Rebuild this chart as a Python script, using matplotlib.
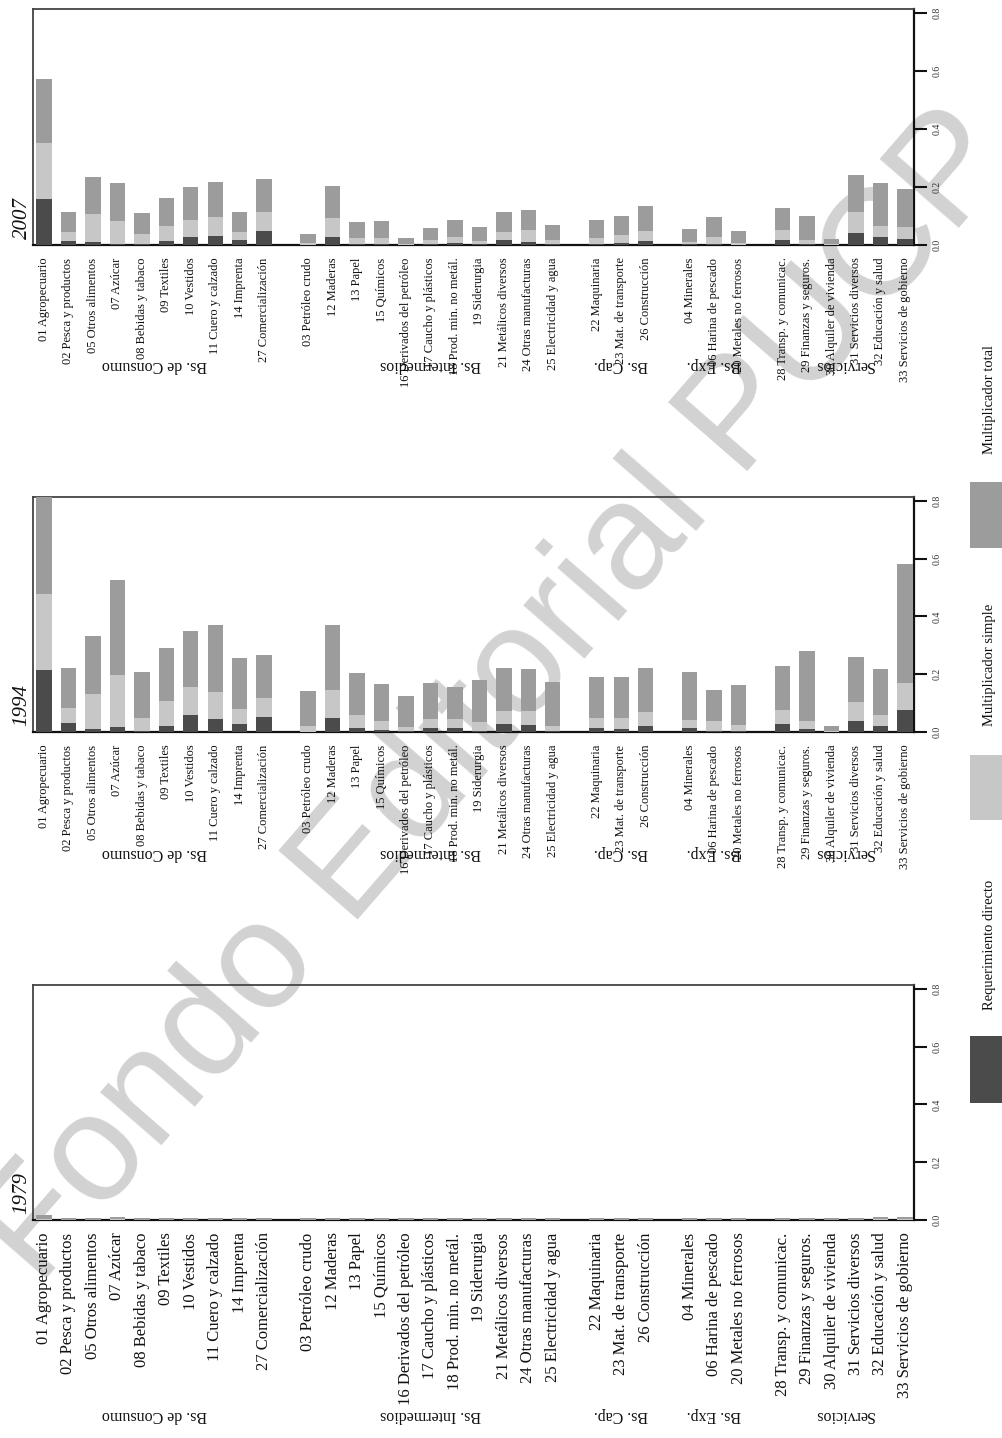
import matplotlib
matplotlib.use("Agg")
import matplotlib.pyplot as plt
from matplotlib.patches import Rectangle
from matplotlib.transforms import blended_transform_factory
import numpy as np

# Sectors, in plotting order, and the block each belongs to
sectors = [
    "01 Agropecuario", "02 Pesca y productos", "05 Otros alimentos", "07 Azúcar",
    "08 Bebidas y tabaco", "09 Textiles", "10 Vestidos", "11 Cuero y calzado",
    "14 Imprenta", "27 Comercialización",
    "03 Petróleo crudo", "12 Maderas", "13 Papel", "15 Químicos",
    "16 Derivados del petróleo", "17 Caucho y plásticos", "18 Prod. min. no metál.",
    "19 Siderurgia", "21 Metálicos diversos", "24 Otras manufacturas",
    "25 Electricidad y agua",
    "22 Maquinaria", "23 Mat. de transporte", "26 Construcción",
    "04 Minerales", "06 Harina de pescado", "20 Metales no ferrosos",
    "28 Transp. y comunicac.", "29 Finanzas y seguros.", "30 Alquiler de vivienda",
    "31 Servicios diversos", "32 Educación y salud", "33 Servicios de gobierno",
]
groups = ["Bs. de Consumo", "Bs. Intermedios", "Bs. Cap.", "Bs. Exp.", "Servicios"]
group_sizes = [10, 11, 3, 3, 6]

series_names = ["Requerimiento directo", "Multiplicador simple", "Multiplicador total"]
series_colors = ["#4b4b4b", "#c7c7c7", "#9c9c9c"]

years = ["2007", "1994", "1979"]

# Cumulative levels: direct requirement, simple multiplier, total multiplier
direct_2007 = [0.158, 0.015, 0.010, 0.003, 0.002, 0.014, 0.026, 0.032, 0.017, 0.048,
               0.000, 0.026, 0.003, 0.003, 0.001, 0.002, 0.007, 0.003, 0.017, 0.010, 0.002,
               0.003, 0.007, 0.014,
               0.002, 0.003, 0.001,
               0.017, 0.003, 0.000, 0.041, 0.026, 0.020]
simple_2007 = [0.350, 0.045, 0.106, 0.083, 0.038, 0.064, 0.086, 0.095, 0.045, 0.114,
               0.006, 0.093, 0.024, 0.024, 0.005, 0.017, 0.028, 0.015, 0.045, 0.052, 0.017,
               0.024, 0.033, 0.048,
               0.010, 0.028, 0.007,
               0.052, 0.017, 0.002, 0.113, 0.064, 0.062]
total_2007 = [0.572, 0.115, 0.234, 0.212, 0.111, 0.162, 0.200, 0.216, 0.115, 0.228,
              0.039, 0.203, 0.078, 0.084, 0.023, 0.059, 0.086, 0.061, 0.113, 0.121, 0.070,
              0.086, 0.100, 0.133,
              0.055, 0.096, 0.048,
              0.127, 0.099, 0.021, 0.241, 0.214, 0.194]

direct_1994 = [0.215, 0.030, 0.012, 0.017, 0.005, 0.021, 0.059, 0.044, 0.028, 0.052,
               0.000, 0.050, 0.013, 0.006, 0.002, 0.013, 0.013, 0.005, 0.028, 0.024, 0.004,
               0.013, 0.009, 0.021,
               0.013, 0.002, 0.002,
               0.028, 0.009, 0.000, 0.037, 0.021, 0.075]
simple_1994 = [0.478, 0.084, 0.132, 0.198, 0.047, 0.106, 0.157, 0.140, 0.081, 0.119,
               0.021, 0.146, 0.060, 0.037, 0.018, 0.044, 0.044, 0.033, 0.071, 0.071, 0.022,
               0.050, 0.047, 0.069,
               0.040, 0.037, 0.024,
               0.077, 0.037, 0.002, 0.104, 0.059, 0.170]
total_1994 = [0.813, 0.223, 0.332, 0.525, 0.207, 0.290, 0.350, 0.370, 0.256, 0.268,
              0.142, 0.370, 0.205, 0.167, 0.125, 0.170, 0.157, 0.180, 0.223, 0.218, 0.172,
              0.189, 0.189, 0.223,
              0.208, 0.147, 0.163,
              0.227, 0.280, 0.021, 0.261, 0.218, 0.581]

direct_1979 = [0.0] * 33
simple_1979 = [0.003, 0.001, 0.001, 0.002, 0.001, 0.001, 0.001, 0.001, 0.001, 0.001,
               0.001, 0.001, 0.001, 0.001, 0.001, 0.001, 0.001, 0.001, 0.001, 0.001, 0.001,
               0.001, 0.001, 0.001,
               0.001, 0.001, 0.001,
               0.001, 0.001, 0.001, 0.001, 0.002, 0.002]
total_1979 = [0.016, 0.006, 0.006, 0.009, 0.006, 0.006, 0.006, 0.006, 0.006, 0.006,
              0.006, 0.006, 0.006, 0.006, 0.006, 0.006, 0.006, 0.006, 0.006, 0.006, 0.006,
              0.006, 0.006, 0.006,
              0.006, 0.006, 0.006,
              0.006, 0.006, 0.006, 0.006, 0.009, 0.010]

panel_data = {
    "2007": (direct_2007, simple_2007, total_2007),
    "1994": (direct_1994, simple_1994, total_1994),
    "1979": (direct_1979, simple_1979, total_1979),
}

yticks = [0.0, 0.2, 0.4, 0.6, 0.8]
ytick_labels = ["0.0", "0.2", "0.4", "0.6", "0.8"]

SERIF = ["Liberation Serif", "DejaVu Serif"]
plt.rcParams["font.family"] = SERIF

W, H = 1002, 1438
fig = plt.figure(figsize=(W / 100, H / 100), dpi=100)
fig.patch.set_facecolor("white")

# publisher mark across the page, kept behind the panels
fig.text(0.497, 0.515, "Fondo Editorial PUCP", rotation=49, ha="center", va="center",
         fontsize=110, family=["Liberation Sans", "DejaVu Sans"], color="#d2d2d2",
         zorder=-5)

# bar positions with an extra gap between blocks
group_idx = np.repeat(np.arange(len(group_sizes)), group_sizes)
pos = np.arange(len(sectors)) + 0.8 * group_idx
bar_w = 0.63

# pixel geometry of each panel: (top, bottom) in image rows
panel_rows = {"2007": (9, 245), "1994": (497, 732), "1979": (985, 1220)}
label_size = {"2007": 9.0, "1994": 9.0, "1979": 12.0}
group_offset = {"2007": 120, "1994": 121, "1979": 195}

ax_left_px, ax_right_px = 33, 914

for yr in years:
    top, bot = panel_rows[yr]
    ax = fig.add_axes([ax_left_px / W, 1 - bot / H,
                       (ax_right_px - ax_left_px) / W, (bot - top) / H])
    ax.set_facecolor("none")
    d, s, t = (np.array(v) for v in panel_data[yr])
    ax.bar(pos, d, width=bar_w, color=series_colors[0], linewidth=0, zorder=3)
    ax.bar(pos, s - d, bottom=d, width=bar_w, color=series_colors[1], linewidth=0, zorder=3)
    ax.bar(pos, t - s, bottom=s, width=bar_w, color=series_colors[2], linewidth=0, zorder=3)

    ax.set_xlim(-0.45, pos[-1] + 0.37)
    ax.set_ylim(0, 0.813)

    ax.set_xticks(pos)
    ax.set_xticklabels(sectors, rotation=90, ha="center", va="top",
                       fontsize=label_size[yr], color="#111111")
    ax.tick_params(axis="x", length=0, pad=9)

    ax.yaxis.tick_right()
    ax.set_yticks(yticks)
    ax.set_yticklabels(ytick_labels, rotation=90, va="center", fontsize=7,
                       color="#333333")
    ax.tick_params(axis="y", length=9.5, width=1.5, color="#111111", pad=4)

    for side in ("left", "top"):
        ax.spines[side].set_color("#444444")
        ax.spines[side].set_linewidth(1.3)
    for side in ("bottom", "right"):
        ax.spines[side].set_color("#111111")
        ax.spines[side].set_linewidth(1.6)

    # block names beneath the sector labels
    trans = blended_transform_factory(ax.transData, ax.transAxes)
    height_px = bot - top
    start = 0
    for g, n in zip(groups, group_sizes):
        center = (pos[start] + pos[start + n - 1]) / 2
        ax.text(center, -group_offset[yr] / height_px, g, rotation=180,
                ha="center", va="center", fontsize=11.5, color="#111111",
                transform=trans)
        start += n

    # year tag on the left margin
    fig.text(22 / W, 1 - (bot - 6) / H, yr, rotation=90, ha="center", va="bottom",
             fontsize=15, style="italic", color="#111111")

# legend: swatches with labels, stacked along the right edge
legend_boxes = [(1036, 1103), (755, 820), (482, 548)]
legend_text_y = [945, 665, 400]
for name, col, (y0, y1), ty in zip(series_names, series_colors, legend_boxes, legend_text_y):
    fig.add_artist(Rectangle((970 / W, 1 - y1 / H), 40 / W, (y1 - y0) / H,
                             transform=fig.transFigure, facecolor=col,
                             edgecolor="none"))
    fig.text(989 / W, 1 - ty / H, name, rotation=90, ha="center", va="center",
             fontsize=10.5, color="#111111")

fig.savefig("out.png", dpi=100)
